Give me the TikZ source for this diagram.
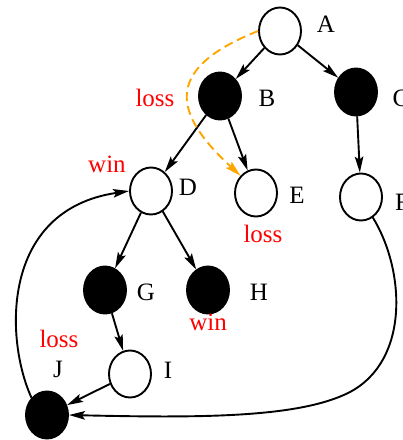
\documentclass[tikz,border=0pt]{standalone}
\usepackage{fontspec}
\setmainfont{Liberation Serif}
\usetikzlibrary{shapes.geometric,arrows.meta}
\definecolor{myorange}{RGB}{255,165,0}
\definecolor{myred}{RGB}{255,0,0}
\begin{document}
\begin{tikzpicture}[x=1pt,y=-1pt,
  st/.style={ellipse,draw,line width=1.9pt,minimum width=42pt,minimum height=47pt,inner sep=0pt},
  wst/.style={st,fill=white},
  bst/.style={st,fill=black},
  lbl/.style={anchor=base,inner sep=0pt,font=\fontsize{25}{30}\selectfont},
  rlbl/.style={lbl,text=myred},
  edge/.style={line width=1.9pt,-{Stealth[length=16pt,width=8.5pt,inset=3pt]}},
  oedge/.style={line width=1.9pt,myorange,dash pattern=on 9pt off 5pt,-{Stealth[length=16pt,width=8.5pt,inset=3pt]}}
]
\useasboundingbox (0,0) rectangle (403,440);
\node[wst] (A) at (280,31) {};
\node[bst] (B) at (220,96) {};
\node[bst] (C) at (356,92) {};
\node[wst] (D) at (151,191) {};
\node[wst] (E) at (256,193) {};
\node[wst] (F) at (361,197) {};
\node[bst] (G) at (105,290) {};
\node[bst] (H) at (208,290) {};
\node[wst] (I) at (130,374) {};
\node[bst] (J) at (47,415) {};

\node[lbl] (lA) at (326,32) {A};
\node[lbl] (lB) at (267,106) {B};
\node[lbl] (lC) at (401,106) {C};
\node[lbl] (lD) at (188,195) {D};
\node[lbl] (lE) at (297,203) {E};
\node[lbl] (lF) at (402,210) {F};
\node[lbl] (lG) at (146,300) {G};
\node[lbl] (lH) at (259,300) {H};
\node[lbl] (lI) at (168,378) {I};
\node[lbl] (lJ) at (58,377) {J};

\node[rlbl] (r1) at (155,106) {loss};
\node[rlbl] (r2) at (107,172) {win};
\node[rlbl] (r3) at (263,242) {loss};
\node[rlbl] (r4) at (208,330) {win};
\node[rlbl] (r5) at (59,347) {loss};

\draw[edge] (A) -- (B);
\draw[edge] (A) -- (C);
\draw[edge] (B) -- (D);
\draw[edge] (B) -- (E);
\draw[edge] (C) -- (F);
\draw[edge] (D) -- (G);
\draw[edge] (D) -- (H);
\draw[edge] (G) -- (I);
\draw[edge] (I) -- (J);
\draw[oedge] (A.west) .. controls (160,70) and (175,115) .. (E.north west);
\draw[edge] (J.north west) .. controls (5,340) and (0,210) .. (D.west);
\draw[edge] (F.-60) .. controls (405,270) and (410,360) .. (350,392) .. controls (300,418) and (200,418) .. (J.east);
\end{tikzpicture}
\end{document}
